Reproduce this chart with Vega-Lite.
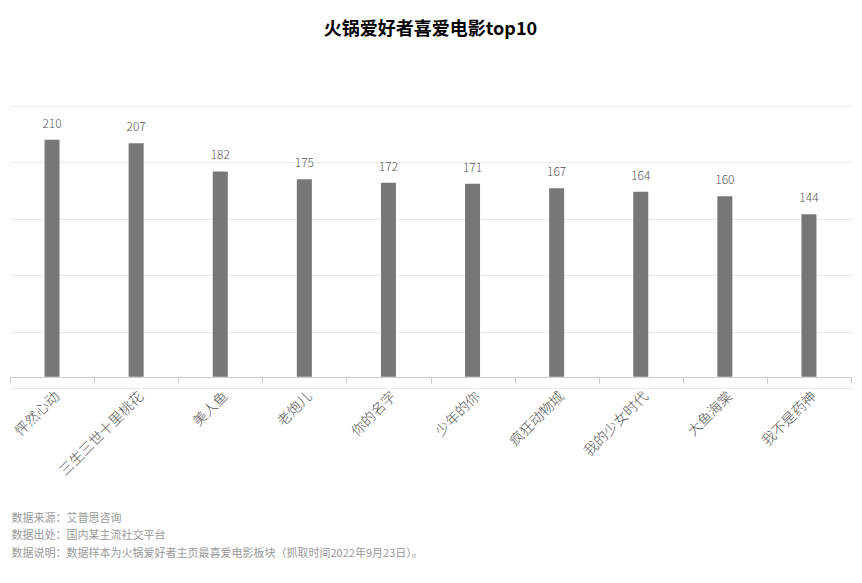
{
  "$schema": "https://vega.github.io/schema/vega-lite/v6.json",
  "autosize": {"type": "none"},
  "padding": {"left": 10, "right": 11, "top": 106, "bottom": 195},
  "width": 841,
  "height": 282,
  "background": "white",
  "config": {
    "font": "Noto Sans CJK SC",
    "view": {"stroke": null}
  },
  "title": {
    "text": "火锅爱好者喜爱电影top10",
    "fontSize": 18,
    "fontWeight": "bold",
    "color": "#000000",
    "anchor": "middle",
    "offset": 67,
    "font": "Noto Sans CJK SC"
  },
  "data": {
    "values": [
      {"movie": "怦然心动", "count": 210},
      {"movie": "三生三世十里桃花", "count": 207},
      {"movie": "美人鱼", "count": 182},
      {"movie": "老炮儿", "count": 175},
      {"movie": "你的名字", "count": 172},
      {"movie": "少年的你", "count": 171},
      {"movie": "疯狂动物城", "count": 167},
      {"movie": "我的少女时代", "count": 164},
      {"movie": "大鱼海棠", "count": 160},
      {"movie": "我不是药神", "count": 144}
    ]
  },
  "encoding": {
    "x": {
      "field": "movie",
      "type": "nominal",
      "sort": null,
      "scale": {"paddingInner": 0, "paddingOuter": 0},
      "axis": {
        "offset": -11,
        "labelAngle": -45,
        "labelFontSize": 14,
        "labelFontWeight": 300,
        "labelColor": "#555555",
        "labelPadding": 6,
        "domainColor": "#cccccc",
        "tickColor": "#cccccc",
        "tickSize": 6,
        "tickBand": "extent",
        "grid": false,
        "title": ["数据来源：艾普思咨询", "数据出处：国内某主流社交平台", "数据说明：数据样本为火锅爱好者主页最喜爱电影板块（抓取时间2022年9月23日）。"],
        "titleFontSize": 11,
        "titleFontWeight": "normal",
        "titleColor": "#999999",
        "titleLineHeight": 17.5,
        "titleAlign": "left",
        "titleAnchor": "start",
        "titleBaseline": "top",
        "titleX": 1,
        "titleY": 135
      }
    },
    "y": {
      "field": "count",
      "type": "quantitative",
      "scale": {"domain": [-10, 240], "nice": false, "zero": false},
      "axis": {
        "values": [-10, 40, 90, 140, 190, 240],
        "labels": false,
        "ticks": false,
        "domain": false,
        "title": null,
        "gridColor": "#ebebeb",
        "gridWidth": 1
      }
    }
  },
  "layer": [
    {
      "mark": {"type": "bar", "width": 15, "color": "#777777"},
      "encoding": {"y2": {"datum": 0}}
    },
    {
      "mark": {"type": "text", "baseline": "alphabetic", "dy": -12, "fontSize": 12, "fontWeight": 300, "color": "#555555"},
      "encoding": {"text": {"field": "count", "type": "quantitative"}}
    }
  ]
}
